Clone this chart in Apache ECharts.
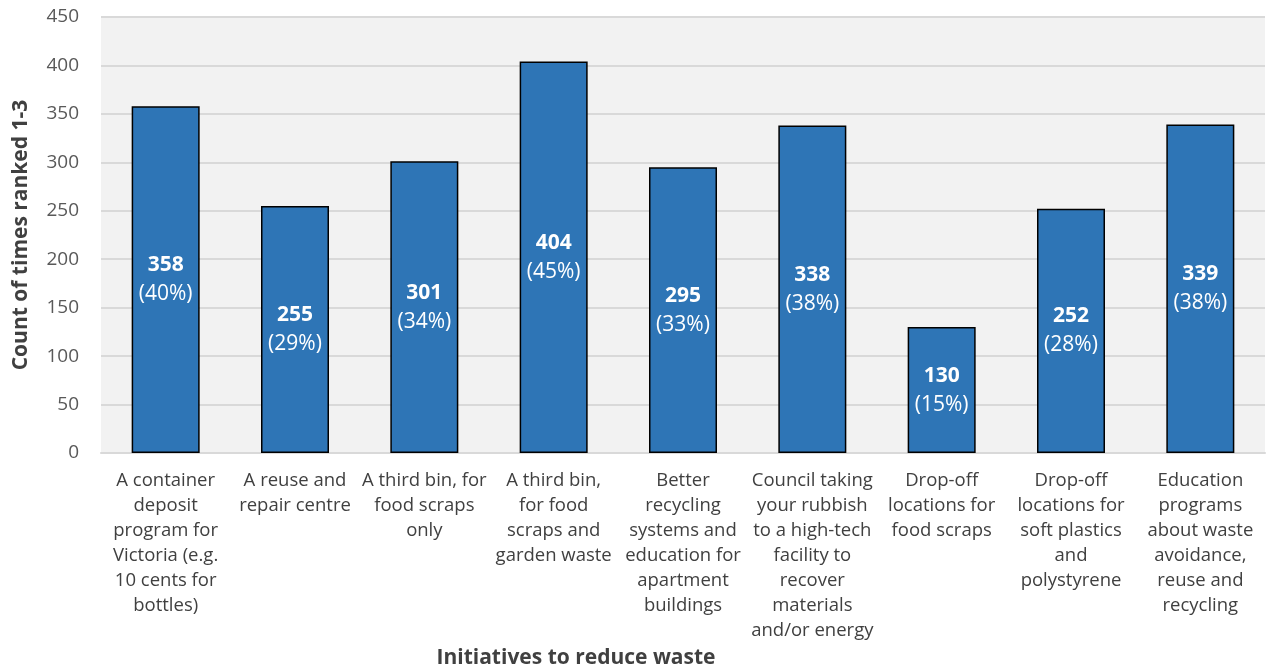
<!DOCTYPE html>
<html><head><meta charset="utf-8">
<script src="https://cdn.jsdelivr.net/npm/echarts@6/dist/echarts.min.js"></script>
<style>html,body{margin:0;padding:0;background:#fff}#c{width:1273px;height:669px}</style>
</head><body><div id="c"></div>
<script>
const categories = [
  "A container\ndeposit\nprogram for\nVictoria (e.g.\n10 cents for\nbottles)",
  "A reuse and\nrepair centre",
  "A third bin, for\nfood scraps\nonly",
  "A third bin,\nfor food\nscraps and\ngarden waste",
  "Better\nrecycling\nsystems and\neducation for\napartment\nbuildings",
  "Council taking\nyour rubbish\nto a high-tech\nfacility to\nrecover\nmaterials\nand/or energy",
  "Drop-off\nlocations for\nfood scraps",
  "Drop-off\nlocations for\nsoft plastics\nand\npolystyrene",
  "Education\nprograms\nabout waste\navoidance,\nreuse and\nrecycling"
];
const counts = [358, 255, 301, 404, 295, 338, 130, 252, 339];
const percents = [40, 29, 34, 45, 33, 38, 15, 28, 38];

const FONT = "Open Sans";
const chart = echarts.init(document.getElementById('c'), null, {renderer: 'canvas'});
chart.setOption({
  animation: false,
  textStyle: {fontFamily: FONT},
  grid: {left: 101, right: 8, top: 17, bottom: 216, show: true, backgroundColor: '#F2F2F2', borderWidth: 0, containLabel: false, outerBoundsMode: 'none'},
  xAxis: {
    type: 'category',
    data: categories,
    name: 'Initiatives to reduce waste',
    nameLocation: 'middle',
    nameGap: 192,
    nameTextStyle: {fontFamily: FONT, fontSize: 21, fontWeight: 'bold', color: '#404040', padding: [0, 214, 0, 0]},
    axisLine: {show: true, lineStyle: {color: '#D9D9D9', width: 2}},
    axisTick: {show: false},
    axisLabel: {interval: 0, fontFamily: FONT, fontSize: 18.5, color: '#404040', lineHeight: 25, margin: 15}
  },
  yAxis: {
    type: 'value',
    min: 0, max: 450, interval: 50,
    name: 'Count of times ranked 1-3',
    nameLocation: 'middle',
    nameGap: 69,
    nameTextStyle: {fontFamily: FONT, fontSize: 21, fontWeight: 'bold', color: '#404040'},
    axisLine: {show: false},
    axisTick: {show: false},
    axisLabel: {fontFamily: FONT, fontSize: 19, color: '#595959', margin: 22},
    splitLine: {lineStyle: {color: '#D9D9D9', width: 2}}
  },
  series: [{
    type: 'bar',
    data: counts,
    barWidth: 68,
    itemStyle: {color: '#2E75B6', borderColor: '#000', borderWidth: 1.5},
    label: {
      show: true,
      position: 'inside',
      formatter: p => '{a|' + p.value + '}\n{b|(' + percents[p.dataIndex] + '%)}',
      rich: {
        a: {fontFamily: FONT, fontSize: 21, fontWeight: 'bold', color: '#fff', lineHeight: 29},
        b: {fontFamily: FONT, fontSize: 21, color: '#fff', lineHeight: 29}
      }
    }
  }]
});
</script></body></html>
